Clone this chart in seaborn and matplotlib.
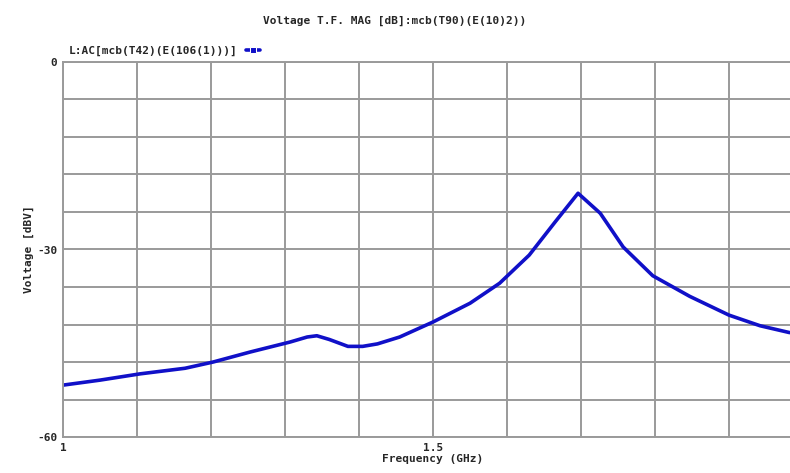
import numpy as np
import pandas as pd
import matplotlib
matplotlib.use("Agg")
import matplotlib.pyplot as plt
import seaborn as sns

# Donnees (frequence en GHz, tension en dBV)
freq_ghz = [1.000, 1.050, 1.104, 1.165, 1.203, 1.253, 1.307, 1.330, 1.343,
            1.360, 1.385, 1.405, 1.425, 1.455, 1.500, 1.550, 1.590, 1.630,
            1.665, 1.696, 1.726, 1.757, 1.797, 1.847, 1.900, 1.942, 1.982]
voltage_dbv = [-51.7, -50.9, -49.9, -49.0, -48.0, -46.4, -44.8, -44.0, -43.8,
               -44.4, -45.5, -45.5, -45.1, -44.0, -41.6, -38.6, -35.4, -30.9,
               -25.6, -21.0, -24.2, -29.6, -34.2, -37.5, -40.5, -42.2, -43.3]

x_ticks = [1.0, 1.1, 1.2, 1.3, 1.4, 1.5, 1.6, 1.7, 1.8, 1.9, 2.0]
x_labels = ["1", "", "", "", "", "1.5", "", "", "", "", ""]
y_ticks = [0, -6, -12, -18, -24, -30, -36, -42, -48, -54, -60]
y_labels = ["0", "", "", "", "", "-30", "", "", "", "", "-60"]

TITRE = "Voltage T.F. MAG [dB]:mcb(T90)(E(10)2))"
LEGENDE = "L:AC[mcb(T42)(E(106(1)))]"

df = pd.DataFrame({"freq": freq_ghz, "volt": voltage_dbv, "serie": LEGENDE})

sns.set_style("white")
plt.rcParams["font.family"] = ["DejaVu Sans Mono", "DejaVu Sans"]

fig = plt.figure(figsize=(7.9, 4.73), dpi=100)
ax = fig.add_axes([63 / 790, 36 / 473, 740 / 790, 375 / 473])

sns.lineplot(data=df, x="freq", y="volt", hue="serie", palette=["#1010c8"],
             linewidth=2.6, ax=ax, legend=True)

ax.set_xlim(1.0, 2.0)
ax.set_ylim(-60, 0)
ax.set_xticks(x_ticks)
ax.set_xticklabels(x_labels, fontsize=8, fontweight="bold")
ax.set_yticks(y_ticks)
ax.set_yticklabels(y_labels, fontsize=8, fontweight="bold")
ax.tick_params(axis="both", length=3, color="#888888", pad=1)
ax.grid(True, color="#9a9a9a", linewidth=1.4)
for sp in ax.spines.values():
    sp.set_color("#9a9a9a")
    sp.set_linewidth(1.4)

ax.set_xlabel("Frequency (GHz)", fontsize=8, fontweight="bold", labelpad=1)
ax.set_ylabel("Voltage [dBV]", fontsize=8, fontweight="bold", labelpad=2)
fig.text(0.5, 0.955, TITRE, ha="center", va="center", fontsize=8, fontweight="bold")

leg = ax.legend(loc="lower left", bbox_to_anchor=(0.0, 1.0), frameon=False,
                markerfirst=False, handlelength=1.2, borderaxespad=0.1,
                prop={"size": 8, "weight": "bold"})
for h in leg.legend_handles:
    h.set_marker("s")
    h.set_markersize(4)
    h.set_markevery([1])

fig.savefig("out.png", dpi=100)
